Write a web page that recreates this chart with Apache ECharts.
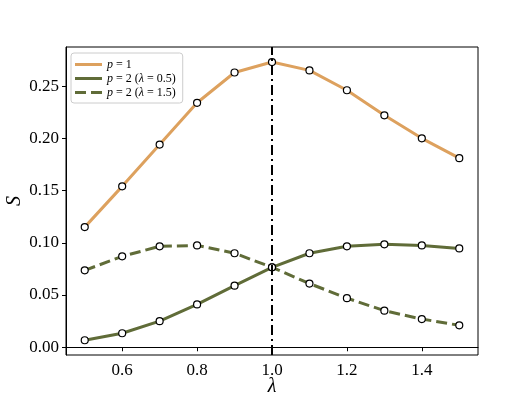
<!DOCTYPE html>
<html>
<head>
<meta charset="utf-8">
<script src="https://cdn.jsdelivr.net/npm/echarts@6/dist/echarts.min.js"></script>
<style>
  html, body { margin: 0; padding: 0; background: #fff; }
  #chart { width: 531px; height: 399px; }
</style>
</head>
<body>
<div id="chart"></div>
<script>
// lambda values on the x axis
const lambdas = [0.5, 0.6, 0.7, 0.8, 0.9, 1.0, 1.1, 1.2, 1.3, 1.4, 1.5];
// S for each curve
const sP1 = [0.115, 0.154, 0.194, 0.234, 0.263, 0.273, 0.265, 0.246, 0.222, 0.200, 0.181];
const sP2Low = [0.0067, 0.0134, 0.025, 0.041, 0.059, 0.0765, 0.090, 0.0966, 0.0985, 0.0975, 0.0946];
const sP2High = [0.0736, 0.087, 0.0966, 0.0975, 0.090, 0.0765, 0.061, 0.047, 0.035, 0.027, 0.021];
const xTicks = [0.6, 0.8, 1.0, 1.2, 1.4];
const yTicks = [0, 0.05, 0.10, 0.15, 0.20, 0.25];
const names = ['p1', 'p2a', 'p2b'];
const legendTexts = {
    p1: '{i|p} = 1',
    p2a: '{i|p} = 2 ({i|λ} = 0.5)',
    p2b: '{i|p} = 2 ({i|λ} = 1.5)'
};

const orange = '#dda15e';
const green = '#606c38';
const font = 'Liberation Serif';

function pairs(ys) {
    return lambdas.map((x, i) => [x, ys[i]]);
}

function lineSeries(name, ys, color, dash) {
    return {
        name: name,
        type: 'line',
        data: pairs(ys),
        symbol: 'circle',
        symbolSize: 7,
        lineStyle: { color: color, width: 3, type: dash ? [11, 5] : 'solid' },
        itemStyle: { color: '#fff', borderColor: '#000', borderWidth: 1.2 },
        emphasis: { disabled: true },
        z: 3
    };
}

const chart = echarts.init(document.getElementById('chart'));
const series = [
    lineSeries(names[0], sP1, orange, false),
    lineSeries(names[1], sP2Low, green, false),
    lineSeries(names[2], sP2High, green, true)
];
series[0].markLine = {
    silent: true,
    symbol: 'none',
    label: { show: false },
    lineStyle: { color: '#000', width: 2, type: [10, 4, 2, 4] },
    data: [{ xAxis: 1.0 }],
    z: 5
};

const option = {
    animation: false,
    grid: {
        left: 66, right: 53, top: 47, bottom: 44,
        outerBoundsMode: 'none',
        containLabel: false,
        show: true, borderColor: '#000', borderWidth: 1
    },
    legend: {
        left: 71, top: 53,
        orient: 'vertical',
        padding: [5, 7, 4, 4],
        itemWidth: 27, itemHeight: 3, itemGap: 1,
        backgroundColor: 'rgba(255,255,255,0.8)',
        borderColor: '#ccc', borderWidth: 1, borderRadius: 3,
        textStyle: {
            fontFamily: font, fontSize: 12, color: '#000', lineHeight: 13,
            rich: { i: { fontFamily: font, fontSize: 12, fontStyle: 'italic' } }
        },
        formatter: n => legendTexts[n],
        data: [
            { name: names[0], icon: 'path://M0,0H27V3H0Z', itemStyle: { color: orange, borderWidth: 0 } },
            { name: names[1], icon: 'path://M0,0H27V3H0Z', itemStyle: { color: green, borderWidth: 0 } },
            { name: names[2], icon: 'path://M0,0H11V3H0Z M16,0H27V3H16Z', itemStyle: { color: green, borderWidth: 0 } }
        ]
    },
    xAxis: {
        type: 'value',
        min: 0.45, max: 1.55,
        name: 'λ', nameLocation: 'middle', nameGap: 22, nameMoveOverlap: false,
        nameTextStyle: { fontFamily: font, fontSize: 20, fontStyle: 'italic', color: '#000' },
        splitLine: { show: false },
        axisLine: { lineStyle: { color: '#000' } },
        axisTick: { show: true, length: 4, customValues: xTicks, lineStyle: { color: '#000' } },
        axisLabel: {
            customValues: xTicks, fontFamily: font, fontSize: 17, color: '#000', margin: 7,
            formatter: v => v.toFixed(1)
        }
    },
    yAxis: {
        type: 'value',
        min: -0.0074, max: 0.2874,
        name: 'S', nameLocation: 'middle', nameGap: 41, nameRotate: 90, nameMoveOverlap: false,
        nameTextStyle: { fontFamily: font, fontSize: 20, fontStyle: 'italic', color: '#000' },
        splitLine: { show: false },
        axisLine: { show: true, lineStyle: { color: '#000' } },
        axisTick: { show: true, length: 4, customValues: yTicks, lineStyle: { color: '#000' } },
        axisLabel: {
            customValues: yTicks, fontFamily: font, fontSize: 17, color: '#000', margin: 7,
            formatter: v => v.toFixed(2)
        }
    },
    series: series
};
option && chart.setOption(option);
</script>
</body>
</html>
